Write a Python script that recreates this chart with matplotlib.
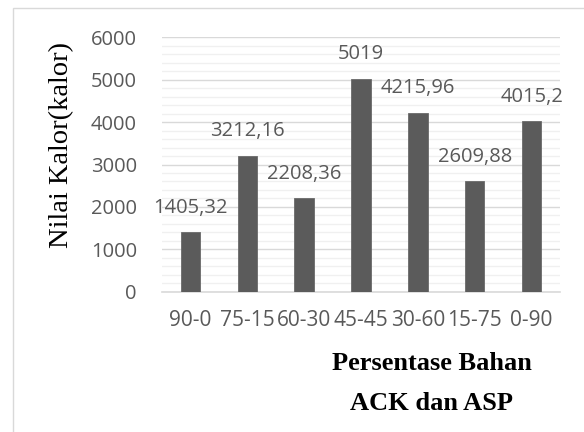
import matplotlib
matplotlib.use("Agg")
import matplotlib.pyplot as plt
from matplotlib.patches import Rectangle
from matplotlib.ticker import MultipleLocator

categories = ["90-0", "75-15", "60-30", "45-45", "30-60", "15-75", "0-90"]
values = [1405.32, 3212.16, 2208.36, 5019, 4215.96, 2609.88, 4015.2]
value_labels = ["1405,32", "3212,16", "2208,36", "5019", "4215,96", "2609,88", "4015,2"]
y_ticks = [0, 1000, 2000, 3000, 4000, 5000, 6000]

W, H = 584, 432
fig = plt.figure(figsize=(W / 100, H / 100), dpi=100)
fig.patch.set_facecolor("white")

# light frame around the chart area
fig.patches.append(Rectangle((13 / W, -0.05), 1.2, 1 - 8 / H + 0.05,
                             transform=fig.transFigure, fill=False,
                             edgecolor="#d9d9d9", linewidth=1.0))

ax = fig.add_axes([162 / W, 1 - 291.7 / H, (560 - 162) / W, (291.7 - 37.3) / H])

text_color = "#595959"
sans = "Open Sans"

x = list(range(len(categories)))
ax.bar(x, values, width=0.34, color="#5b5b5b", edgecolor="#6a6a6a",
       linewidth=0.6, zorder=3)

for xi, v, lab in zip(x, values, value_labels):
    ax.annotate(lab, (xi, v), xytext=(0, 17.6), textcoords="offset points",
                ha="center", va="center", fontsize=14.5, family=sans,
                color=text_color, zorder=4)

ax.set_xlim(-0.5, len(categories) - 0.5)
ax.set_ylim(0, 6000)
ax.set_yticks(y_ticks)
ax.set_yticklabels([str(t) for t in y_ticks])
ax.yaxis.set_minor_locator(MultipleLocator(200))
ax.set_xticks(x)
ax.set_xticklabels(categories)

ax.grid(axis="y", which="major", color="#d9d9d9", linewidth=1.0, zorder=1)
ax.grid(axis="y", which="minor", color="#f0f0f0", linewidth=1.0, zorder=0)
ax.set_axisbelow(True)

for s in ["top", "right", "left"]:
    ax.spines[s].set_visible(False)
ax.spines["bottom"].set_color("#d9d9d9")
ax.spines["bottom"].set_linewidth(1.2)

ax.tick_params(axis="y", which="both", length=0, pad=18, labelsize=14.5,
               labelcolor=text_color)
ax.tick_params(axis="x", which="both", length=0, pad=13, labelsize=15,
               labelcolor=text_color)
for lbl in ax.get_xticklabels() + ax.get_yticklabels():
    lbl.set_fontfamily(sans)

fig.text(62 / W, 1 - 145 / H, "Nilai Kalor(kalor)", rotation=90,
         ha="center", va="center", fontsize=20.5, family="Liberation Serif",
         color="black")

fig.text(432 / W, 1 - 364 / H, "Persentase Bahan", ha="center", va="center",
         fontsize=19, fontweight="bold", family="Liberation Serif", color="black")
fig.text(432 / W, 1 - 403 / H, "ACK dan ASP", ha="center", va="center",
         fontsize=19, fontweight="bold", family="Liberation Serif", color="black")

fig.savefig("out.png", dpi=100, facecolor="white")
